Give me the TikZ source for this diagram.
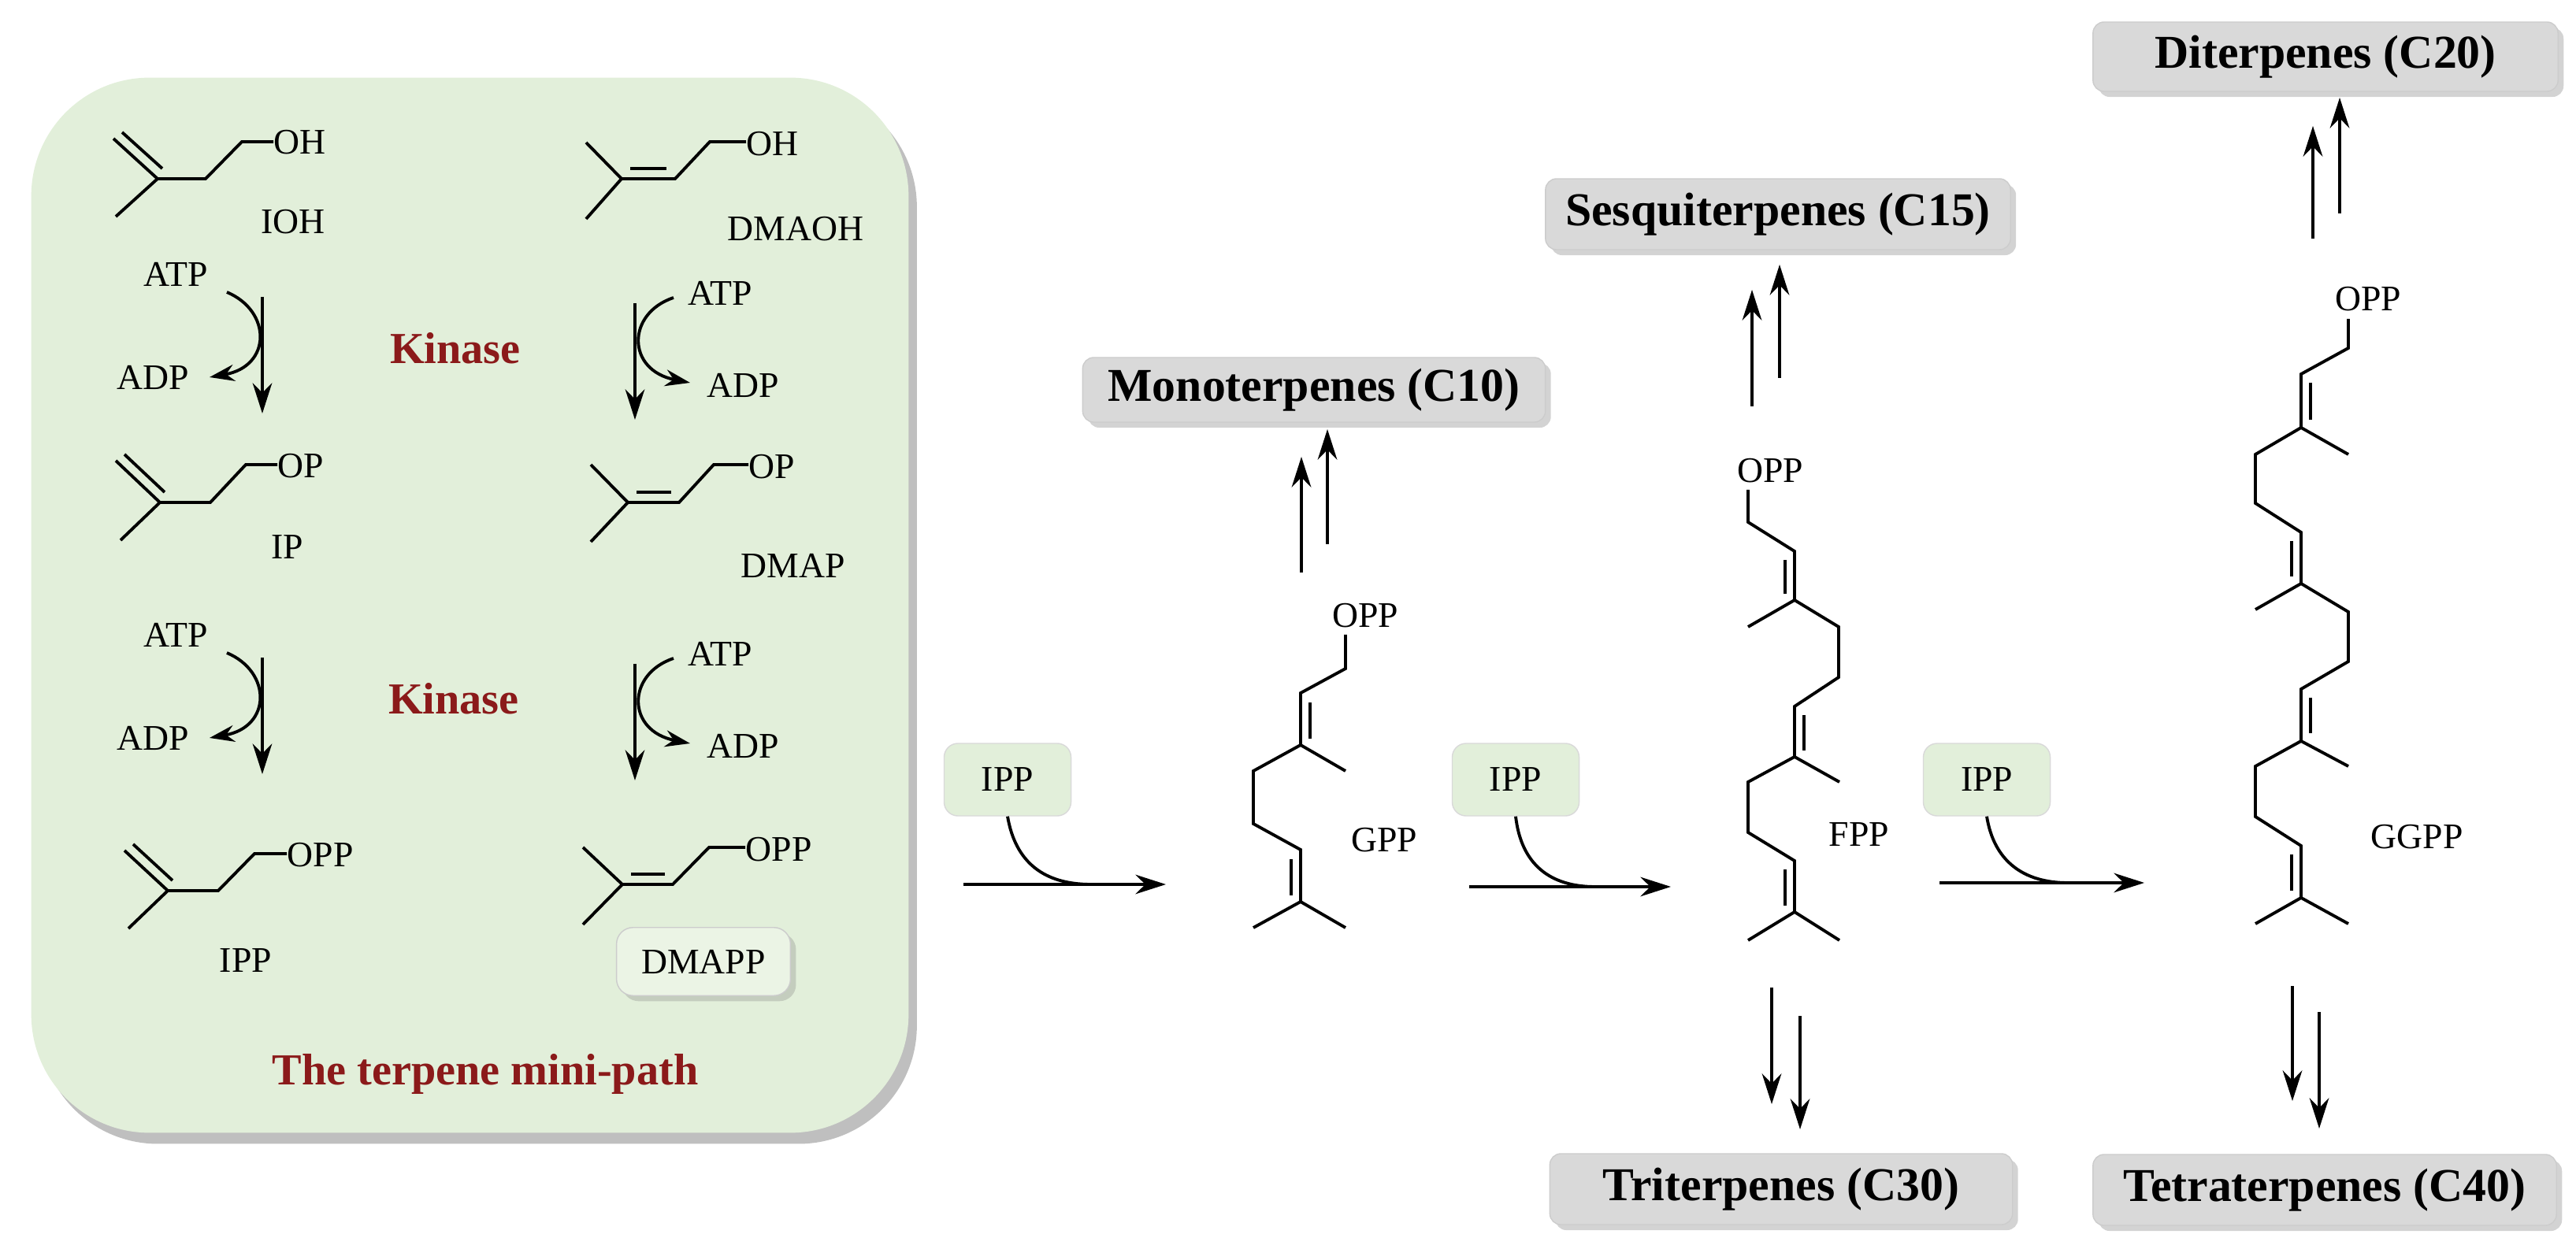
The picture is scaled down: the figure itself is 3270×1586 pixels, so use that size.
\documentclass[tikz,border=0pt]{standalone}
\usepackage{fontspec}
\setmainfont{Liberation Serif}
\usetikzlibrary{arrows.meta,shadows}
\definecolor{pale}{HTML}{E2EFDA}
\definecolor{boxg}{HTML}{D9D9D9}
\definecolor{kin}{HTML}{8B1A1A}
\begin{document}
\begin{tikzpicture}[x=0.01cm,y=-0.01cm,
  bond/.style={line width=1.1pt,line join=miter},
  arr/.style={line width=1.1pt,-{Stealth[length=11pt,width=7pt]}},
  chem/.style={font=\fontsize{13}{15}\selectfont,inner sep=0pt},
  prod/.style={draw=gray!40,fill=boxg,rounded corners=4pt,minimum width=590\pgflinewidth,font=\fontsize{17}{20}\selectfont\bfseries,drop shadow={shadow xshift=2pt,shadow yshift=-2pt,opacity=.35}},
  ipp/.style={draw=gray!30,fill=pale,rounded corners=5pt,minimum width=1.61cm,minimum height=0.92cm,font=\fontsize{13}{15}\selectfont},
  red/.style={text=kin,font=\fontsize{16}{19}\selectfont\bfseries}]
\useasboundingbox (0,0) rectangle (3270,1586);
% green box
\node[draw=none,fill=pale,rounded corners=1.5cm,minimum width=11.13cm,minimum height=13.39cm,drop shadow={shadow xshift=3pt,shadow yshift=-4pt,opacity=.5}] (mini) at (596.5,768.5) {};
% IOH
\draw[bond] (144,176) -- (200,227) -- (147,275) (200,227) -- (261,227) -- (307,180) -- (347,180);
\draw[bond] (155,168) -- (206,214);
\node[chem,anchor=west] (ioh) at (347,181) {OH};
\node[chem] (iohl) at (372,282) {IOH};
% DMAOH
\draw[bond] (744,181) -- (789,227) -- (744,278) (789,227) -- (857,227) -- (901,180) -- (947,180);
\draw[bond] (800,214) -- (846,214);
\node[chem,anchor=west] (dmaoh) at (947,183) {OH};
\node[chem] (dmaohl) at (1010,291) {DMAOH};
% IP
\draw[bond] (147,585) -- (203,638) -- (153,686) (203,638) -- (267,638) -- (312,590) -- (352,590);
\draw[bond] (158,577) -- (209,625);
\node[chem,anchor=west] (ip) at (352,592) {OP};
\node[chem] (ipl) at (365,695) {IP};
% DMAP
\draw[bond] (750,590) -- (797,638) -- (750,688) (797,638) -- (862,638) -- (906,590) -- (950,590);
\draw[bond] (808,625) -- (852,625);
\node[chem,anchor=west] (dmap) at (950,593) {OP};
\node[chem] (dmapl) at (1007,718) {DMAP};
% IPP
\draw[bond] (158,1080) -- (213,1131) -- (163,1179) (213,1131) -- (277,1131) -- (323,1084) -- (364,1084);
\draw[bond] (169,1072) -- (219,1118);
\node[chem,anchor=west] (ippo) at (364,1086) {OPP};
\node[chem] (ippl) at (312,1220) {IPP};
% DMAPP
\draw[bond] (740,1076) -- (790,1123) -- (740,1174) (790,1123) -- (854,1123) -- (900,1076) -- (946,1076);
\draw[bond] (801,1110) -- (844,1110);
\node[chem,anchor=west] (dmappo) at (946,1079) {OPP};
\node[chem,draw=gray!40,fill=pale!70!white,rounded corners=6pt,inner xsep=9pt,inner ysep=8pt,drop shadow={shadow xshift=2pt,shadow yshift=-2pt,opacity=.3}] (dmappl) at (893,1221) {DMAPP};
% kinase steps
\foreach \dy in {0,458}{
 \begin{scope}[yshift=-\dy*0.01cm]
 \node[chem] (atpL) at (223,348) {ATP};
 \node[chem] (adpL) at (194,479) {ADP};
 \draw[arr] (333,377) -- (333,525);
 \draw[line width=1.1pt,-{Stealth[length=9pt,width=6pt]}] (288,371) .. controls (345,395) and (345,465) .. (266,479);
 \node[chem] (atpR) at (914,372) {ATP};
 \node[chem] (adpR) at (943,489) {ADP};
 \draw[arr] (806,385) -- (806,533);
 \draw[line width=1.1pt,-{Stealth[length=9pt,width=6pt]}] (855,378) .. controls (795,398) and (795,470) .. (876,486);
 \end{scope}}
\node[red] (k1) at (578,442) {Kinase};
\node[red] (k2) at (576,887) {Kinase};
\node[red] (title) at (616,1364) {The terpene mini-path};
% IPP boxes and arrows
\node[ipp] (i1) at (1279,990) {IPP};
\node[ipp] (i2) at (1924,990) {IPP};
\node[ipp] (i3) at (2522,990) {IPP};
\coordinate (a1s) at (1223,1123); \coordinate (a1e) at (1480,1123);
\coordinate (a2s) at (1865,1126); \coordinate (a2e) at (2121,1126);
\coordinate (a3s) at (2462,1121); \coordinate (a3e) at (2722,1121);
\draw[arr] (a1s) -- (a1e);
\draw[arr] (a2s) -- (a2e);
\draw[arr] (a3s) -- (a3e);
\draw[line width=1.1pt] (i1.south) .. controls (1289,1095) and (1325,1123) .. (1385,1123);
\draw[line width=1.1pt] (i2.south) .. controls (1931,1098) and (1968,1126) .. (2025,1126);
\draw[line width=1.1pt] (i3.south) .. controls (2531,1093) and (2568,1121) .. (2625,1121);
% GPP
\draw[bond] (1708,806) -- (1708,849) -- (1651,880) -- (1651,946) -- (1708,979)
  (1651,946) -- (1591,979) -- (1591,1046) -- (1651,1079) -- (1651,1145) -- (1591,1178) (1651,1145) -- (1708,1178);
\draw[bond] (1663,892) -- (1663,938);
\draw[bond] (1639,1091) -- (1639,1137);
\node[chem] (gppo) at (1733,782) {OPP};
\node[chem] (gppl) at (1757,1067) {GPP};
% FPP
\draw[bond] (2219,622) -- (2219,663) -- (2278,700) -- (2278,762) -- (2219,796)
  (2278,762) -- (2334,796) -- (2334,860) -- (2278,897) -- (2278,961) -- (2335,993)
  (2278,961) -- (2219,993) -- (2219,1057) -- (2278,1093) -- (2278,1158) -- (2219,1194) (2278,1158) -- (2335,1194);
\draw[bond] (2266,711) -- (2266,754);
\draw[bond] (2290,908) -- (2290,953);
\draw[bond] (2266,1104) -- (2266,1150);
\node[chem] (fppo) at (2247,598) {OPP};
\node[chem] (fppl) at (2360,1060) {FPP};
% GGPP
\draw[bond] (2981,405) -- (2981,442) -- (2921,475) -- (2921,543) -- (2981,577)
  (2921,543) -- (2863,577) -- (2863,639) -- (2921,676) -- (2921,741) -- (2863,774)
  (2921,741) -- (2981,777) -- (2981,840) -- (2921,875) -- (2921,941) -- (2981,973)
  (2921,941) -- (2863,973) -- (2863,1037) -- (2921,1074) -- (2921,1140) -- (2863,1173) (2921,1140) -- (2981,1173);
\draw[bond] (2933,486) -- (2933,533);
\draw[bond] (2909,687) -- (2909,732);
\draw[bond] (2933,886) -- (2933,931);
\draw[bond] (2909,1085) -- (2909,1131);
\node[chem] (ggppo) at (3006,380) {OPP};
\node[chem] (ggppl) at (3068,1063) {GGPP};
% product boxes
\node[prod,minimum width=5.87cm,minimum height=0.82cm] (mono) at (1668,495) {Monoterpenes (C10)};
\node[prod,minimum width=5.9cm,minimum height=0.9cm] (sesq) at (2257,272) {Sesquiterpenes (C15)};
\node[prod,minimum width=5.9cm,minimum height=0.88cm] (di) at (2952,72) {Diterpenes (C20)};
\node[prod,minimum width=5.87cm,minimum height=0.9cm] (tri) at (2261,1510) {Triterpenes (C30)};
\node[prod,minimum width=5.88cm,minimum height=0.9cm] (tetra) at (2951,1511) {Tetraterpenes (C40)};
% up/down arrows
\draw[arr] (1652,727) -- (1652,580);
\draw[arr] (1685,691) -- (1685,545);
\draw[arr] (2224,516) -- (2224,368);
\draw[arr] (2259,480) -- (2259,336);
\draw[arr] (2936,303) -- (2936,160);
\draw[arr] (2970,271) -- (2970,124);
\draw[arr] (2249,1254) -- (2249,1402);
\draw[arr] (2285,1290) -- (2285,1434);
\draw[arr] (2910,1252) -- (2910,1398);
\draw[arr] (2944,1285) -- (2944,1433);
\end{tikzpicture}
\end{document}
